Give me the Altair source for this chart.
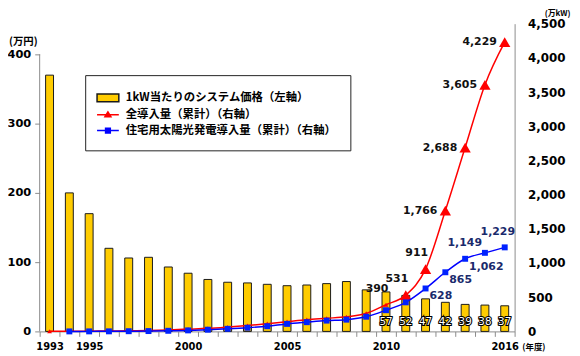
import altair as alt
import pandas as pd

years = list(range(1993, 2017))
price = [370, 200, 170, 120, 106, 107, 93, 84, 75, 71, 70, 68, 66, 67, 69, 72, 60, 57, 52, 47, 42, 39, 38, 37]
total = [2, 3, 4, 6, 9, 13, 21, 33, 45, 64, 86, 113, 142, 171, 192, 214, 263, 390, 531, 911, 1766, 2688, 3605, 4229]
res_years = list(range(1994, 2017))
residential = [0.2, 0.5, 1, 3, 5, 9, 15, 25, 38, 54, 76, 110, 135, 158, 172, 215, 310, 425, 628, 865, 1062, 1149, 1229]
label_years = [1993, 1995, 2000, 2005, 2010, 2016]
series_names = ["1kW当たりのシステム価格（左軸）", "全導入量（累計）（右軸）", "住宅用太陽光発電導入量（累計）（右軸）"]

price_df = pd.DataFrame({"year": years, "price": price})
total_df = pd.DataFrame({"year": years, "value": total})
res_df = pd.DataFrame({"year": res_years, "value": residential})
legend_df = pd.DataFrame({"series": series_names})

NUM_FONT = "DejaVu Sans"
JP_FONT = "Noto Sans CJK JP"
AX = "#8c8c8c"

x_enc = alt.X(
    "year:O",
    scale=alt.Scale(domain=years, paddingInner=0, paddingOuter=0),
    axis=alt.Axis(
        title="(年度)", titleAngle=0, titleX=499, titleY=18, titleAlign="center",
        titleBaseline="alphabetic", titleFont=JP_FONT, titleFontSize=8.5, titleFontWeight="bold",
        labelAngle=0, tickBand="extent", tickSize=5, tickColor=AX, domainColor=AX,
        labelFont=NUM_FONT, labelFontSize=10, labelFontWeight="bold", labelColor="#000",
        labelPadding=5, labelOverlap=False,
        labelExpr="indexof([" + ",".join(str(v) for v in label_years) + "], datum.value) >= 0 ? datum.label : ''",
    ),
)

y_left = alt.Y(
    "price:Q",
    scale=alt.Scale(domain=[0, 444.3], nice=False),
    axis=alt.Axis(
        values=[0, 100, 200, 300, 400], domain=False, grid=False, tickSize=5, tickColor=AX,
        labelFont=NUM_FONT, labelFontSize=11.5, labelFontWeight="bold", labelColor="#000", labelPadding=4,
        title="(万円)", titleAngle=0, titleX=-17, titleY=21, titleAlign="center", titleBaseline="alphabetic",
        titleFont=JP_FONT, titleFontSize=10.5, titleFontWeight="bold",
    ),
)

bars = alt.Chart(price_df).mark_bar(size=8, color="#FFCC00", stroke="#1a1a1a", strokeWidth=1).encode(
    x=x_enc, y=y_left
)
left_rule = alt.Chart(pd.DataFrame({"k": [0]})).mark_rule(color=AX, strokeWidth=1).encode(
    x=alt.value(0), y=alt.datum(0), y2=alt.datum(400)
)
bar_lbl_base = alt.Chart(price_df).transform_filter("datum.year >= 2010")
bar_lbl_outline = bar_lbl_base.mark_text(
    font=NUM_FONT, fontSize=10.5, color="#000", stroke="#000", strokeWidth=2.2, dy=-9, baseline="middle"
).encode(x=x_enc, y=alt.datum(0), text=alt.Text("price:Q"))
bar_lbl_white = bar_lbl_base.mark_text(
    font=NUM_FONT, fontSize=10.5, color="#fff", dy=-9, baseline="middle"
).encode(x=x_enc, y=alt.datum(0), text=alt.Text("price:Q"))

left = alt.layer(bars, left_rule, bar_lbl_outline, bar_lbl_white)

y_right = alt.Y(
    "value:Q",
    scale=alt.Scale(domain=[0, 4500], nice=False),
    axis=alt.Axis(
        orient="right", values=list(range(0, 4501, 500)), format=",.0f", grid=False,
        ticks=False, tickSize=0, domainColor=AX, labelPadding=13,
        labelFont=NUM_FONT, labelFontSize=12, labelFontWeight="bold", labelColor="#000",
        title="(万kW)", titleAngle=0, titleX=43, titleY=-14, titleAlign="center", titleBaseline="top",
        titleFont=JP_FONT, titleFontSize=8, titleFontWeight="bold",
    ),
)

red_line = alt.Chart(total_df).mark_line(color="#FF0000", strokeWidth=1.5, interpolate="monotone").encode(
    x=x_enc, y=y_right
)
red_pts = alt.Chart(total_df).mark_point(shape="triangle-up", filled=True, color="#FF0000", opacity=1).encode(
    x=x_enc, y=y_right,
    size=alt.condition("datum.year >= 2011", alt.value(130), alt.value(24)),
)
blue_line = alt.Chart(res_df).mark_line(color="#0000FF", strokeWidth=1.5, interpolate="monotone").encode(
    x=x_enc, y=y_right
)
blue_pts = alt.Chart(res_df).mark_point(shape="square", filled=True, color="#0022FF", size=36, opacity=1).encode(
    x=x_enc, y=y_right
)

txt = dict(font=NUM_FONT, fontSize=11, fontWeight="bold", baseline="middle")
lbl_a = alt.Chart(total_df).transform_filter("datum.year >= 2010 && datum.year <= 2012").mark_text(
    align="center", dx=-9, dy=-16, color="#111", **txt
).encode(x=x_enc, y=y_right, text=alt.Text("value:Q", format=","))
lbl_b = alt.Chart(total_df).transform_filter("datum.year >= 2013").mark_text(
    align="right", dx=-8, dy=0, color="#111", **txt
).encode(x=x_enc, y=y_right, text=alt.Text("value:Q", format=","))
lbl_c = alt.Chart(res_df).transform_filter("datum.year >= 2012 && datum.year <= 2014").mark_text(
    align="left", dx=4, dy=8, color="#1a2a6c", **txt
).encode(x=x_enc, y=y_right, text=alt.Text("value:Q", format=","))
lbl_d1 = alt.Chart(res_df).transform_filter("datum.year == 2015").mark_text(
    align="right", dx=-3, dy=-10, color="#1a2a6c", **txt
).encode(x=x_enc, y=y_right, text=alt.Text("value:Q", format=","))
lbl_d2 = alt.Chart(res_df).transform_filter("datum.year == 2016").mark_text(
    align="center", dx=-7, dy=-15, color="#1a2a6c", **txt
).encode(x=x_enc, y=y_right, text=alt.Text("value:Q", format=","))

sym_paths = [
    "M-1.375,-0.5H1.375V0.5H-1.375Z",
    "M-1.375,0H1.375M-0.375,0.25L0,-0.35L0.375,0.25Z",
    "M-1.375,0H1.375M-0.3,-0.3H0.3V0.3H-0.3Z",
]
leg = alt.Legend(
    title=None, orient="none", legendX=46, legendY=52, padding=14, strokeColor="#222", fillColor="#fff",
    symbolSize=256, symbolStrokeWidth=1.5, symbolOpacity=1, labelOffset=9, rowPadding=1,
    labelFont=JP_FONT, labelFontSize=11.5, labelFontWeight="bold", labelColor="#000", labelLimit=400,
)
legend_layer = alt.Chart(legend_df).mark_point(filled=True, opacity=0).encode(
    shape=alt.Shape("series:N", scale=alt.Scale(domain=series_names, range=sym_paths), legend=leg),
    fill=alt.Fill("series:N", scale=alt.Scale(domain=series_names, range=["#FFCC00", "#FF0000", "#0000FF"]), legend=leg),
    stroke=alt.Stroke("series:N", scale=alt.Scale(domain=series_names, range=["#1a1a1a", "#FF0000", "#0000FF"]), legend=leg),
)

right = alt.layer(red_line, red_pts, blue_line, blue_pts, lbl_a, lbl_b, lbl_c, lbl_d1, lbl_d2, legend_layer)

chart = alt.layer(left, right).resolve_scale(y="independent").properties(
    width=480, height=311,
    padding={"left": 32, "top": 14, "right": 58, "bottom": 23},
    autosize=alt.AutoSizeParams(type="none"),
    background="#ffffff",
).configure_view(stroke=None)

chart.save("out.html", embed_options={"renderer": "svg", "actions": False})
